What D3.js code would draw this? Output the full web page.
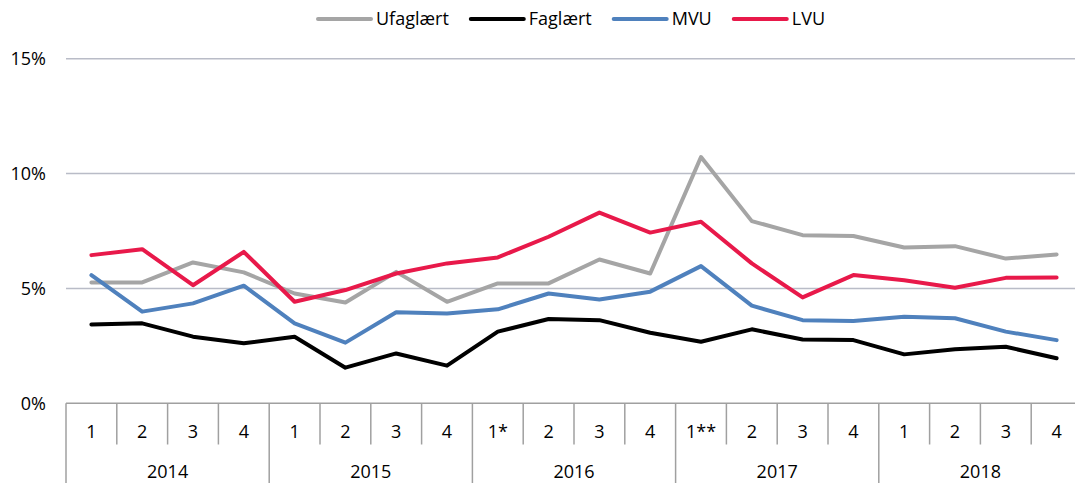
<!DOCTYPE html>
<html>
<head>
<meta charset="utf-8">
<script src="https://cdn.jsdelivr.net/npm/d3@7"></script>
<style>
  body { margin: 0; background: #fff; }
  svg { display: block; font-family: "Open Sans", sans-serif; }
</style>
</head>
<body>
<svg id="chart" width="1075" height="483"></svg>
<script>
// quarters grouped by year, values in percent
const years = ['2014', '2015', '2016', '2017', '2018']
const quarterLabels = ['1', '2', '3', '4', '1', '2', '3', '4', '1*', '2', '3', '4',
                       '1**', '2', '3', '4', '1', '2', '3', '4']
const yTicks = [0, 5, 10, 15]

const seriesNames = ['Ufaglært', 'Faglært', 'MVU', 'LVU']
const seriesColors = ['#a5a5a5', '#000000', '#4f81bd', '#e8194a']

const ufaglaert = [5.26, 5.26, 6.13, 5.70, 4.78, 4.39, 5.72, 4.42, 5.22, 5.22,
                   6.26, 5.65, 10.72, 7.93, 7.32, 7.28, 6.78, 6.84, 6.30, 6.48]
const faglaert  = [3.43, 3.48, 2.90, 2.61, 2.90, 1.55, 2.17, 1.64, 3.12, 3.67,
                   3.62, 3.07, 2.68, 3.22, 2.78, 2.75, 2.13, 2.35, 2.46, 1.96]
const mvu       = [5.58, 3.99, 4.35, 5.12, 3.48, 2.64, 3.96, 3.91, 4.09, 4.78,
                   4.52, 4.86, 5.97, 4.25, 3.62, 3.58, 3.77, 3.70, 3.12, 2.75]
const lvu       = [6.45, 6.71, 5.14, 6.59, 4.42, 4.93, 5.65, 6.09, 6.35, 7.25,
                   8.30, 7.43, 7.90, 6.09, 4.61, 5.58, 5.36, 5.03, 5.46, 5.48]

const allSeries = [ufaglaert, faglaert, mvu, lvu]

// index keys so duplicate quarter labels stay separate
const keys = quarterLabels.map((q, i) => i)

const svg = d3.select('#chart')

const plotLeft = 66, plotRight = 1082, plotTop = 58.7, plotBottom = 403.3

const x = d3.scaleBand()
  .domain(keys)
  .range([plotLeft, plotRight])

const y = d3.scaleLinear()
  .domain([0, 15])
  .range([plotBottom, plotTop])

const color = d3.scaleOrdinal()
  .domain(seriesNames)
  .range(seriesColors)

// gridlines
svg.append('g')
  .selectAll('line')
  .data(yTicks.filter(d => d > 0))
  .join('line')
    .attr('x1', plotLeft)
    .attr('x2', plotRight)
    .attr('y1', d => y(d))
    .attr('y2', d => y(d))
    .attr('stroke', '#b9bcc7')
    .attr('stroke-width', 1.5)

// y labels
svg.append('g')
  .selectAll('text')
  .data(yTicks)
  .join('text')
    .attr('x', 46)
    .attr('y', d => y(d))
    .attr('dy', '0.35em')
    .attr('text-anchor', 'end')
    .attr('font-size', 18)
    .attr('fill', '#000')
    .text(d => d + '%')

// category axis: base line, quarter and year dividers
const axisG = svg.append('g')
  .attr('stroke', '#a0a0a0')
  .attr('stroke-width', 1.5)

axisG.append('line')
  .attr('x1', plotLeft)
  .attr('x2', plotRight)
  .attr('y1', plotBottom)
  .attr('y2', plotBottom)

axisG.selectAll('.qdiv')
  .data(keys)
  .join('line')
    .attr('class', 'qdiv')
    .attr('x1', d => x(d))
    .attr('x2', d => x(d))
    .attr('y1', plotBottom)
    .attr('y2', d => d % 4 === 0 ? 483 : 444.5)

svg.append('g')
  .selectAll('text')
  .data(keys)
  .join('text')
    .attr('x', d => x(d) + x.bandwidth() / 2)
    .attr('y', 432)
    .attr('dy', '0.35em')
    .attr('text-anchor', 'middle')
    .attr('font-size', 18)
    .text(d => quarterLabels[d])

svg.append('g')
  .selectAll('text')
  .data(years)
  .join('text')
    .attr('x', (d, i) => x(i * 4) + x.bandwidth() * 2)
    .attr('y', 471.5)
    .attr('dy', '0.35em')
    .attr('text-anchor', 'middle')
    .attr('font-size', 18)
    .text(d => d)

// series lines
const line = d3.line()
  .x((d, i) => x(i) + x.bandwidth() / 2)
  .y(d => y(d))

svg.append('g')
  .selectAll('path')
  .data(allSeries)
  .join('path')
    .attr('fill', 'none')
    .attr('stroke', (d, i) => color(seriesNames[i]))
    .attr('stroke-width', 4)
    .attr('stroke-linecap', 'round')
    .attr('stroke-linejoin', 'round')
    .attr('d', line)

// legend, laid out from measured text widths
const legend = svg.append('g')
let lx = 318
seriesNames.forEach(name => {
  const item = legend.append('g')
  item.append('line')
    .attr('x1', lx)
    .attr('x2', lx + 53)
    .attr('y1', 19)
    .attr('y2', 19)
    .attr('stroke', color(name))
    .attr('stroke-width', 4)
    .attr('stroke-linecap', 'round')
  const t = item.append('text')
    .attr('x', lx + 58)
    .attr('y', 19)
    .attr('dy', '0.35em')
    .attr('font-size', 18)
    .text(name)
  lx += 58 + t.node().getComputedTextLength() + 22
})
</script>
</body>
</html>
